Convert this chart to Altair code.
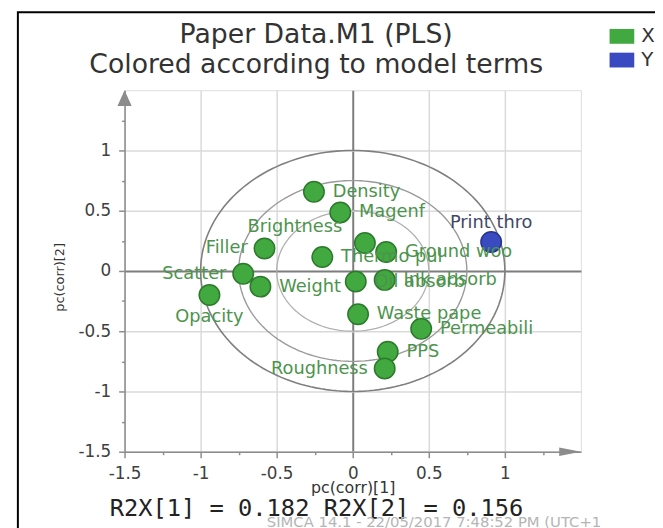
import altair as alt
import pandas as pd
import numpy as np

# ---- data ----
names = ["Density", "Magenf", "Brightness", "Filler", "Thermo pul", "Ground woo",
         "Print thro", "Scatter", "Weight", "Oil absorb", "Ink absorb", "Opacity",
         "Waste pape", "Permeabili", "PPS", "Roughness"]
pc1 = [-0.255, -0.082, 0.08, -0.58, -0.20, 0.22, 0.91, -0.72, -0.607, 0.02, 0.21,
       -0.942, 0.035, 0.45, 0.23, 0.21]
pc2 = [0.658, 0.486, 0.232, 0.186, 0.115, 0.158, 0.24, -0.023, -0.13, -0.088, -0.074,
       -0.20, -0.36, -0.48, -0.67, -0.81]
terms = ["X", "X", "X", "X", "X", "X", "Y", "X", "X", "X", "X", "X", "X", "X", "X", "X"]
placement = ["right", "right", "upleft", "left", "right", "right", "above", "left",
             "right", "right", "right", "below", "right", "right", "right", "left"]

radii = [1.0, 0.75, 0.5]
circle_colors = ["#7f7f7f", "#9a9a9a", "#b0b0b0"]
axis_min, axis_max = -1.5, 1.5
tick_values = [-1.5, -1.25, -1.0, -0.75, -0.5, -0.25, 0.0, 0.25, 0.5, 0.75, 1.0, 1.25]

title_lines = ["Paper Data.M1 (PLS)", "Colored according to model terms"]
x_title = "pc(corr)[1]"
y_title = "pc(corr)[2]"
r2x_text = "R2X[1] = 0.182 R2X[2] = 0.156"
simca_text = "SIMCA 14.1 - 22/05/2017 7:48:52 PM (UTC+1"

green = "#42a840"
blue = "#3a4bc2"

# ---- tables ----
pts = pd.DataFrame({"x": pc1, "y": pc2, "name": names, "type": terms, "place": placement})

angles = np.linspace(0, 2 * np.pi, 181)
circ_frames = []
for r in radii:
    circ_frames.append(pd.DataFrame({"x": r * np.cos(angles), "y": r * np.sin(angles),
                                     "i": np.arange(len(angles)), "r": r}))
circ = pd.concat(circ_frames, ignore_index=True)

minor = "abs(datum.value*2 - round(datum.value*2)) > 0.1"
label_expr = minor + " ? '' : '' + datum.value"

def make_axis(**kw):
    return alt.Axis(
        values=tick_values,
        labelExpr=label_expr,
        tickSize={"condition": {"test": minor, "value": 3}, "value": 6},
        tickColor="#8c8c8c", tickWidth=1.5,
        domainColor="#8c8c8c", domainWidth=1.5,
        gridColor={"condition": {"test": "datum.value == 0", "value": "#7d7d7d"}, "value": "#dadada"},
        gridOpacity={"condition": {"test": minor, "value": 0}, "value": 1},
        gridWidth={"condition": {"test": "datum.value == 0", "value": 2}, "value": 1.5},
        labelFont="DejaVu Sans", labelFontSize=17, labelColor="#404040",
        labelPadding=8, labelFlush=False, labelOverlap=False,
        titleFont="DejaVu Sans", titleFontWeight="normal", titleColor="#333333",
        **kw,
    )

xaxis = make_axis(titleFontSize=16, titleY=36, titleBaseline="middle")
yaxis = make_axis(titleFontSize=13, titleX=-66, titleY=189, titleAngle=270,
                  titleAlign="center", titleBaseline="middle")

xscale = alt.Scale(domain=[axis_min, axis_max], nice=False, zero=False)
yscale = alt.Scale(domain=[axis_min, axis_max], nice=False, zero=False)
X = alt.X("x:Q", scale=xscale, axis=xaxis, title=x_title)
Y = alt.Y("y:Q", scale=yscale, axis=yaxis, title=y_title)

layers = []

# frame around the whole figure
frame = alt.Chart(pd.DataFrame({"a": [0]})).mark_rect(
    fillOpacity=0, stroke="#000000", strokeWidth=2
).encode(x=alt.value(-108), x2=alt.value(900), y=alt.value(-79), y2=alt.value(900))
layers.append(frame)

# title lines
title_df = pd.DataFrame({"t": title_lines, "k": [0, 1]})
for k, yy in zip([0, 1], [-48, -17]):
    layers.append(
        alt.Chart(title_df).transform_filter(f"datum.k == {k}").mark_text(
            align="center", baseline="alphabetic", font="DejaVu Sans", fontSize=27,
            color="#333333"
        ).encode(x=alt.value(194), y=alt.value(yy), text="t:N")
    )

for r, c, w in zip(radii, circle_colors, [1.6, 1.4, 1.3]):
    layers.append(
        alt.Chart(circ).transform_filter(f"datum.r == {r}").mark_line(
            color=c, strokeWidth=w
        ).encode(x=X, y=Y, order=alt.Order("i:Q"))
    )

points = alt.Chart(pts).mark_circle(size=430, opacity=1, strokeWidth=1.5).encode(
    x=X, y=Y,
    color=alt.Color("type:N", title=None,
                    scale=alt.Scale(domain=["X", "Y"], range=[green, blue]),
                    legend=alt.Legend(orient="none", legendX=491, legendY=-67,
                                      padding=0, symbolType="M-1,-0.6H1V0.6H-1Z",
                                      symbolSize=625, symbolStrokeWidth=0,
                                      symbolOpacity=1, labelFont="DejaVu Sans",
                                      labelFontSize=20, labelColor="#333333",
                                      labelOffset=7, rowPadding=1)),
    stroke=alt.condition("datum.type == 'Y'", alt.value("#26338f"), alt.value("#2b7a2b")),
)
layers.append(points)

label_specs = {
    "right": dict(align="left", dx=19, dy=0),
    "left": dict(align="right", dx=-17, dy=0),
    "above": dict(align="center", dx=0, dy=-19),
    "below": dict(align="center", dx=0, dy=22),
    "upleft": dict(align="right", dx=-23, dy=-16),
}
for place, spec in label_specs.items():
    layers.append(
        alt.Chart(pts).transform_filter(f"datum.place == '{place}'").mark_text(
            baseline="middle", font="DejaVu Sans", fontSize=18, **spec
        ).encode(
            x=X, y=Y, text="name:N",
            color=alt.condition("datum.type == 'Y'", alt.value("#3f4766"), alt.value("#4c944c")),
        )
    )

# axis arrows
top_arrow = alt.Chart(pd.DataFrame({"x": [axis_min], "y": [axis_max]})).mark_point(
    shape="M0,0L0.45,1L-0.45,1Z", size=1024, filled=True, opacity=1,
    color="#8c8c8c", strokeWidth=0
).encode(x=X, y=Y)
right_arrow = alt.Chart(pd.DataFrame({"x": [axis_max], "y": [axis_min]})).mark_point(
    shape="M0,0L-1,-0.2L-1,0.2Z", size=1936, filled=True, opacity=1,
    color="#8c8c8c", strokeWidth=0
).encode(x=X, y=Y)
layers += [top_arrow, right_arrow]

r2x = alt.Chart(pd.DataFrame({"t": [r2x_text]})).mark_text(
    align="left", baseline="middle", font="DejaVu Sans Mono", fontSize=24, color="#222222"
).encode(x=alt.value(-15), y=alt.value(424), text="t:N")
simca = alt.Chart(pd.DataFrame({"t": [simca_text]})).mark_text(
    align="left", baseline="middle", font="DejaVu Sans", fontSize=15, color="#b5b5b5"
).encode(x=alt.value(144), y=alt.value(437), text="t:N")
layers += [r2x, simca]

chart = alt.layer(*layers).properties(
    width=462, height=366,
    autosize=alt.AutoSizeParams(type="none"),
    padding={"left": 118, "top": 80, "right": 75, "bottom": 74},
).configure_view(fill="#f3f3f3", stroke="transparent").configure(background="#ffffff")

chart.save("out.html", embed_options={"renderer": "svg", "actions": False})
